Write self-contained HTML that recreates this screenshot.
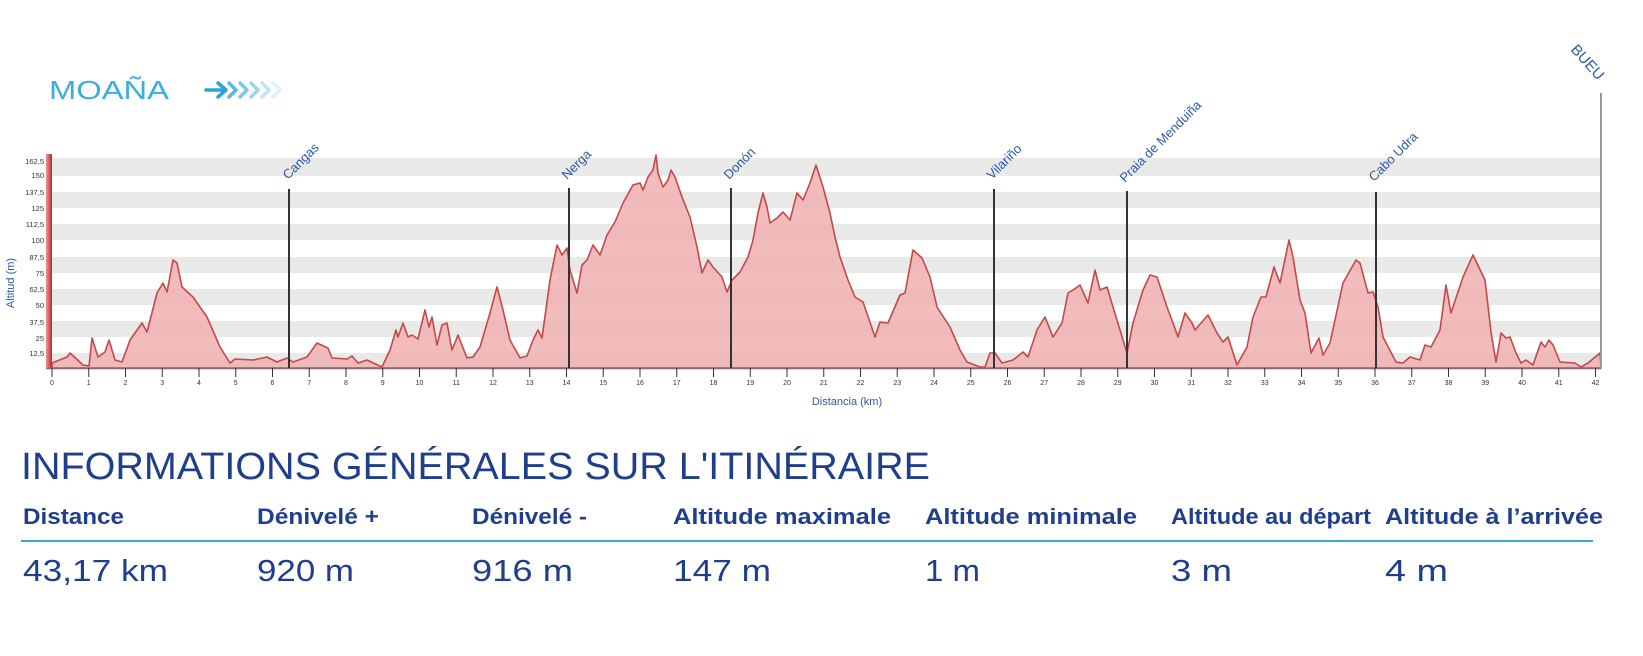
<!DOCTYPE html>
<html><head><meta charset="utf-8"><style>
html,body{margin:0;padding:0;background:#fff;}
svg{display:block;}
</style></head><body>
<svg width="1643" height="656" viewBox="0 0 1643 656" xmlns="http://www.w3.org/2000/svg" font-family="Liberation Sans, sans-serif">
<defs>
<linearGradient id="ax" x1="0" y1="0" x2="1" y2="0"><stop offset="0" stop-color="#e79a9a"/><stop offset="1" stop-color="#c0282a"/></linearGradient>
</defs>
<!-- stripes -->
<g fill="#e9e9e9">
<rect x="52" y="158" width="1549" height="18"/>
<rect x="52" y="192" width="1549" height="16"/>
<rect x="52" y="224" width="1549" height="16"/>
<rect x="52" y="257" width="1549" height="16"/>
<rect x="52" y="289" width="1549" height="16"/>
<rect x="52" y="321" width="1549" height="16"/>
<rect x="52" y="353" width="1549" height="15"/>
</g>
<g stroke="#f2f2f2" stroke-width="1" id="vg"></g>
<!-- profile -->
<path fill="#f0b0b0" fill-opacity="0.85" stroke="#c24a48" stroke-width="1.6" stroke-linejoin="round" d="M52,368 L52,363 L67,357 L70,353 L83,365 L89,366 L92,338 L98,357 L105,352 L109,340 L115,360 L122,362 L130,340 L142,323 L147,332 L157,293 L163,283 L167,292 L173,260 L177,263 L182,287 L193,297 L207,317 L220,347 L230,363 L235,359 L253,360 L267,357 L277,362 L287,358 L293,362 L307,357 L317,343 L328,348 L332,358 L347,359 L352,356 L358,363 L367,360 L382,367 L390,350 L396,330 L398,337 L403,323 L408,337 L412,335 L418,339 L425,310 L429,327 L432,317 L437,345 L442,325 L447,323 L452,350 L458,335 L467,358 L473,357 L480,347 L490,313 L497,287 L503,310 L510,340 L520,358 L527,356 L533,340 L538,330 L542,338 L550,280 L557,245 L562,255 L567,248 L570,270 L577,293 L582,265 L587,260 L593,245 L600,255 L607,235 L615,222 L623,203 L633,185 L640,183 L643,190 L648,177 L653,170 L656,155 L658,173 L663,187 L668,180 L671,170 L675,177 L682,197 L690,217 L697,247 L702,273 L708,260 L713,267 L722,277 L727,292 L732,280 L740,272 L748,257 L753,240 L758,213 L763,193 L767,207 L770,223 L777,218 L783,212 L790,220 L797,193 L803,200 L810,183 L816,165 L823,187 L830,213 L835,237 L840,257 L848,280 L855,297 L863,302 L875,337 L880,322 L888,323 L900,295 L905,293 L913,250 L922,258 L930,277 L937,307 L950,327 L960,350 L967,362 L980,367 L985,367 L990,353 L995,353 L1002,363 L1013,360 L1023,352 L1028,357 L1037,330 L1045,317 L1053,337 L1062,323 L1068,293 L1073,290 L1080,285 L1088,303 L1095,270 L1100,290 L1107,287 L1113,307 L1120,330 L1127,353 L1133,323 L1143,290 L1150,275 L1157,277 L1167,307 L1173,323 L1178,337 L1185,313 L1192,323 L1195,330 L1208,315 L1217,333 L1223,342 L1228,337 L1237,365 L1247,347 L1253,317 L1261,297 L1266,297 L1274,267 L1280,283 L1289,240 L1293,257 L1300,300 L1305,313 L1311,353 L1319,338 L1323,355 L1330,343 L1343,283 L1356,260 L1360,263 L1368,293 L1373,292 L1378,307 L1383,337 L1396,362 L1403,363 L1410,357 L1420,360 L1425,345 L1431,347 L1440,330 L1446,285 L1451,313 L1463,277 L1473,255 L1485,280 L1491,332 L1496,362 L1501,333 L1506,338 L1510,337 L1516,353 L1521,363 L1526,360 L1533,365 L1541,342 L1545,347 L1549,340 L1553,345 L1560,362 L1575,363 L1581,367 L1588,363 L1600,353 L1601,368 Z"/>
<!-- axis -->
<rect x="46" y="154" width="6" height="214" fill="url(#ax)"/>
<line x1="46" y1="368.5" x2="1601" y2="368.5" stroke="#8a6a6a" stroke-width="1.5"/>
<g font-size="7.5" fill="#333" text-anchor="end">
<text x="44" y="164">162,5</text><text x="44" y="178">150</text><text x="44" y="195">137,5</text><text x="44" y="211">125</text><text x="44" y="227">112,5</text><text x="44" y="243">100</text><text x="44" y="260">87,5</text><text x="44" y="276">75</text><text x="44" y="292">62,5</text><text x="44" y="308">50</text><text x="44" y="325">37,5</text><text x="44" y="341">25</text><text x="44" y="356">12,5</text>
</g>
<g id="xt" font-size="7" fill="#333" text-anchor="middle"></g>
<text transform="translate(14,283) rotate(-90)" font-size="11" fill="#2d5aa6" text-anchor="middle">Altitud (m)</text>
<text x="847" y="405" font-size="11" fill="#2d5aa6" text-anchor="middle">Distancia (km)</text>
<!-- markers -->
<g stroke="#333" stroke-width="2">
<line x1="289" y1="189" x2="289" y2="368"/>
<line x1="569" y1="188" x2="569" y2="368"/>
<line x1="731" y1="188" x2="731" y2="368"/>
<line x1="994" y1="189" x2="994" y2="368"/>
<line x1="1127" y1="191" x2="1127" y2="368"/>
<line x1="1376" y1="192" x2="1376" y2="368"/>
</g>
<line x1="1601" y1="93" x2="1601" y2="368" stroke="#999" stroke-width="2"/>
<g font-size="13" fill="#2d5aa6">
<text transform="translate(288,180) rotate(-45)">Cangas</text>
<text transform="translate(567,180) rotate(-45)">Nerga</text>
<text transform="translate(729,180) rotate(-45)">Donón</text>
<text transform="translate(992,180) rotate(-45)">Vilariño</text>
<text transform="translate(1125,183) rotate(-45)">Praia de Menduiña</text>
<text transform="translate(1374,182) rotate(-45)">Cabo Udra</text>
<text transform="translate(1570,50) rotate(48)" font-size="15">BUEU</text>
</g>
<!-- title -->
<text x="49" y="99" font-size="26" fill="#3aaee0" textLength="120" lengthAdjust="spacingAndGlyphs">MOAÑA</text>
<g stroke-width="3.5" fill="none" stroke-linecap="round" stroke-linejoin="round">
<line x1="206" y1="90" x2="224" y2="90" stroke="#2aa3dc"/>
<polyline points="218,83 226,90 218,97" stroke="#2aa3dc"/>
<polyline points="229,83 236,90 229,97" stroke="#5ab8e5"/>
<polyline points="240,83 247,90 240,97" stroke="#7cc7ea"/>
<polyline points="251,83 258,90 251,97" stroke="#9dd5ef"/>
<polyline points="262,83 269,90 262,97" stroke="#bfe3f4"/>
<polyline points="273,83 280,90 273,97" stroke="#dcf0f9"/>
</g>
<!-- info -->
<text x="21" y="479" font-size="38" fill="#1f3f8c" textLength="909" lengthAdjust="spacingAndGlyphs">INFORMATIONS GÉNÉRALES SUR L'ITINÉRAIRE</text>
<g font-size="22" font-weight="bold" fill="#1f3f8c">
<text x="23" y="524" textLength="101" lengthAdjust="spacingAndGlyphs">Distance</text>
<text x="257" y="524" textLength="122" lengthAdjust="spacingAndGlyphs">Dénivelé +</text>
<text x="472" y="524" textLength="115" lengthAdjust="spacingAndGlyphs">Dénivelé -</text>
<text x="673" y="524" textLength="218" lengthAdjust="spacingAndGlyphs">Altitude maximale</text>
<text x="925" y="524" textLength="212" lengthAdjust="spacingAndGlyphs">Altitude minimale</text>
<text x="1171" y="524" textLength="200" lengthAdjust="spacingAndGlyphs">Altitude au départ</text>
<text x="1385" y="524" textLength="218" lengthAdjust="spacingAndGlyphs">Altitude à l’arrivée</text>
</g>
<line x1="21" y1="541" x2="1593" y2="541" stroke="#3aa6c8" stroke-width="2"/>
<g font-size="31" fill="#1f3f8c">
<text x="23" y="581" textLength="145" lengthAdjust="spacingAndGlyphs">43,17 km</text>
<text x="257" y="581" textLength="97" lengthAdjust="spacingAndGlyphs">920 m</text>
<text x="472" y="581" textLength="101" lengthAdjust="spacingAndGlyphs">916 m</text>
<text x="673" y="581" textLength="98" lengthAdjust="spacingAndGlyphs">147 m</text>
<text x="925" y="581" textLength="55" lengthAdjust="spacingAndGlyphs">1 m</text>
<text x="1171" y="581" textLength="61" lengthAdjust="spacingAndGlyphs">3 m</text>
<text x="1385" y="581" textLength="63" lengthAdjust="spacingAndGlyphs">4 m</text>
</g>
<script>
(function(){var ns="http://www.w3.org/2000/svg",xt=document.getElementById("xt");
for(var k=0;k<=42;k++){var x=52+k*36.75;
var l=document.createElementNS(ns,"line");l.setAttribute("x1",x);l.setAttribute("x2",x);l.setAttribute("y1",368);l.setAttribute("y2",377);l.setAttribute("stroke","#333");l.setAttribute("stroke-width","1");xt.appendChild(l);
var t=document.createElementNS(ns,"text");t.setAttribute("x",x);t.setAttribute("y",385);t.textContent=k;xt.appendChild(t);}})();
</script>
</svg>
</body></html>
